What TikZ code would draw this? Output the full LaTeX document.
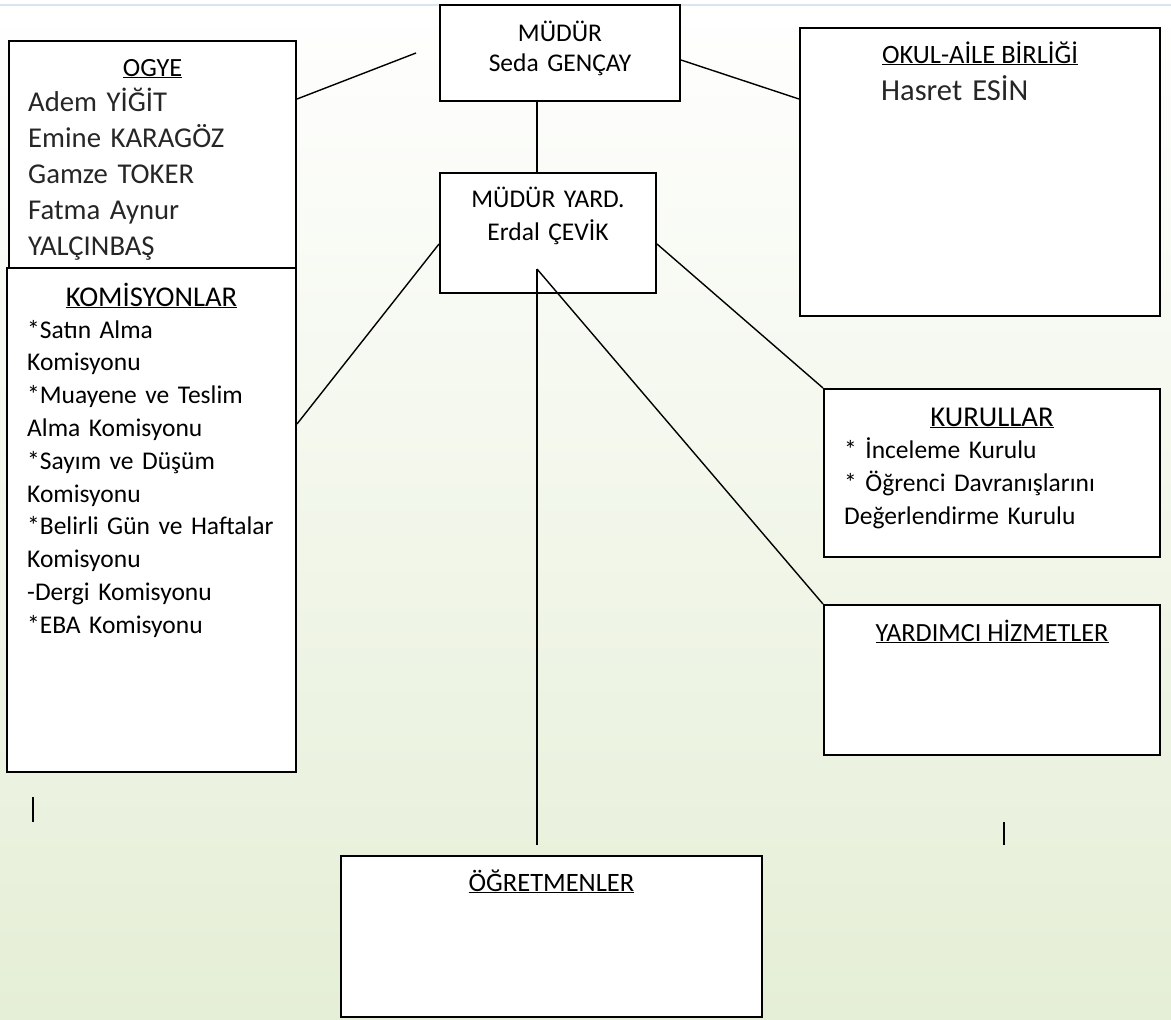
\documentclass[tikz,border=0pt]{standalone}
\usepackage{fontspec}
\setmainfont{Carlito}
\usetikzlibrary{positioning}

\definecolor{ustmavi}{RGB}{218,229,242}
\definecolor{altyesil}{RGB}{229,238,214}

\tikzset{
  kutu/.style={draw, line width=2pt, fill=white, inner sep=0pt},
  hat/.style={line width=1.4pt},
  yazi/.style={inner sep=0pt, anchor=base, font=\fontsize{25.5}{30}\selectfont},
  liste/.style={inner sep=0pt, anchor=base west, text width=270pt, align=left,
                font=\fontsize{25.5}{32.8}\selectfont},
  isim/.style={liste, font=\fontsize{28.7}{36}\selectfont, text=black!85},
}

\newcommand{\noktalar}{
    \coordinate (kok)    at (537,269);
    \coordinate (ogyeuc) at (416,53);
    \coordinate (ogretuc) at (537,845);

    \coordinate (sol1) at (33,797);
    \coordinate (sol2) at (33,822);
    \coordinate (sag1) at (1004,822);
    \coordinate (sag2) at (1004,845);
}
\newcommand{\baslik}[1]{\underline{#1}}

\begin{document}
\begin{tikzpicture}[x=1pt,y=-1pt]
  \useasboundingbox (0,0) rectangle (1171,1020);
  \shade[top color=white, bottom color=altyesil] (-3,-3) rectangle (1174,1023);
  \draw[ustmavi, line width=2.5pt] (0,5) -- (1171,5);
  \noktalar;

  % kutular
  \node[kutu, minimum width=240pt, minimum height=96pt]  (mudur)    at (560,53)    {};
  \node[kutu, minimum width=216pt, minimum height=120pt] (yard)     at (548,233)   {};
  \node[kutu, minimum width=287pt, minimum height=227pt] (ogye)     at (152.5,154.5) {};
  \node[kutu, minimum width=289pt, minimum height=504pt] (komisyon) at (151.5,520) {};
  \node[kutu, minimum width=360pt, minimum height=288pt] (okul)     at (980,172)   {};
  \node[kutu, minimum width=336pt, minimum height=168pt] (kurul)    at (992,473)   {};
  \node[kutu, minimum width=336pt, minimum height=150pt] (yardimci) at (992,680)   {};
  \node[kutu, minimum width=421pt, minimum height=161pt] (ogretmen) at (551.5,936.5) {};

  % yazilar
  \node[yazi, text width=230pt, align=center] (mudurad) at ([yshift=-37pt]mudur.north)
       {MÜDÜR\\Seda GENÇAY};
  \node[yazi, text width=210pt, align=center, font=\fontsize{25.5}{33}\selectfont] (yardad)
       at ([yshift=-35pt]yard.north) {MÜDÜR YARD.\\Erdal ÇEVİK};

  \node[yazi, font=\fontsize{26.3}{30}\selectfont] (ogyebas) at ([yshift=-36pt]ogye.north) {\baslik{OGYE}};
  \node[isim] (ogyeler) at ([xshift=20pt,yshift=-71pt]ogye.north west)
       {Adem YİĞİT\\Emine KARAGÖZ\\Gamze TOKER\\Fatma Aynur\\YALÇINBAŞ};

  \node[yazi, font=\fontsize{28.6}{30}\selectfont] (komisyonbas) at ([yshift=-39pt]komisyon.north) {\baslik{KOMİSYONLAR}};
  \node[liste] (komisyonlar) at ([xshift=21pt,yshift=-71pt]komisyon.north west)
       {*Satın Alma\\Komisyonu\\{*}Muayene ve Teslim\\Alma Komisyonu\\{*}Sayım ve Düşüm\\Komisyonu\\{*}Belirli Gün ve Haftalar\\Komisyonu\\-Dergi Komisyonu\\{*}EBA Komisyonu};

  \node[yazi, font=\fontsize{26.5}{30}\selectfont] (okulbas) at ([yshift=-36pt]okul.north) {\baslik{OKUL-AİLE BİRLİĞİ}};
  \node[isim, font=\fontsize{30.5}{36}\selectfont] (okulisim) at ([xshift=82pt,yshift=-73pt]okul.north west) {Hasret ESİN};

  \node[yazi, font=\fontsize{28.7}{30}\selectfont] (kurulbas) at ([yshift=-38pt]kurul.north) {\baslik{KURULLAR}};
  \node[liste, font=\fontsize{25.5}{33}\selectfont] (kurullar) at ([xshift=21pt,yshift=-70pt]kurul.north west)
       {* İnceleme Kurulu\\{*} Öğrenci Davranışlarını\\Değerlendirme Kurulu};

  \node[yazi, font=\fontsize{26.2}{30}\selectfont] (yardimcibas) at ([yshift=-37pt]yardimci.north) {\baslik{YARDIMCI HİZMETLER}};
  \node[yazi, font=\fontsize{26.5}{30}\selectfont] (ogretmenbas) at ([yshift=-36pt]ogretmen.north) {\baslik{ÖĞRETMENLER}};

  % baglantilar
  \draw[hat] ([yshift=-59pt]ogye.north east) -- (ogyeuc);
  \draw[hat] ([yshift=-56pt]mudur.north east) -- ([yshift=-72pt]okul.north west);
  \draw[hat] (kok |- mudur.south) -- (kok |- yard.north);
  \draw[hat] ([yshift=-72pt]yard.north west) -- ([yshift=-157pt]komisyon.north east);
  \draw[hat] ([yshift=-72pt]yard.north east) -- (kurul.north west);
  \draw[hat] (kok) -- (yardimci.north west);
  \draw[hat] (kok) -- (ogretuc);

  \draw[line width=1.2pt] (sol1) -- (sol2);
  \draw[line width=1.2pt] (sag1) -- (sag2);
\end{tikzpicture}
\end{document}
